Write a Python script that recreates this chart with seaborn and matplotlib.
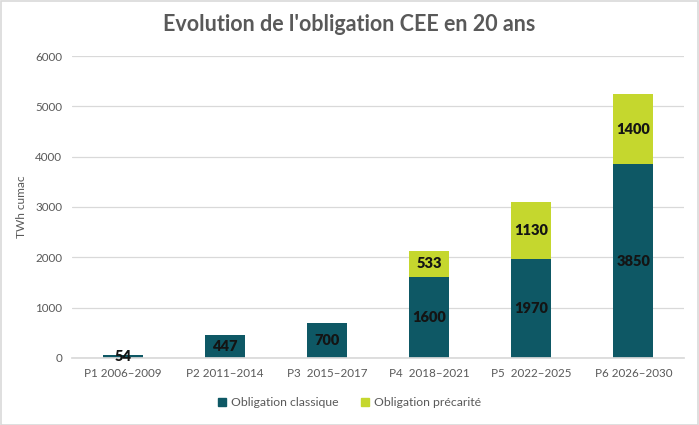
import matplotlib
matplotlib.use('Agg')
import numpy as np
import pandas as pd
import matplotlib.pyplot as plt
import seaborn as sns
from matplotlib.patches import Patch

periods = ["P1 2006\u20132009", "P2 2011\u20132014", "P3  2015\u20132017",
           "P4  2018\u20132021", "P5  2022\u20132025", "P6 2026\u20132030"]
classique = [54, 447, 700, 1600, 1970, 3850]
precarite = [0, 0, 0, 533, 1130, 1400]

teal = "#0E5865"
lime = "#C5D72E"
grey_txt = "#595959"

sns.set_theme(style="white")
plt.rcParams['font.family'] = ['Lato', 'DejaVu Sans']

df = pd.DataFrame({"period": periods, "classique": classique, "precarite": precarite})
df["total"] = df["classique"] + df["precarite"]

fig = plt.figure(figsize=(6.99, 4.25), dpi=100)
ax = fig.add_axes([0.103, 0.158, 0.876, 0.71])

sns.barplot(data=df, x="period", y="total", color=lime, width=0.39, saturation=1,
            linewidth=0, ax=ax)
sns.barplot(data=df, x="period", y="classique", color=teal, width=0.39, saturation=1,
            linewidth=0, ax=ax)

ax.set_ylim(0, 6000)
ax.set_yticks(np.arange(0, 6001, 1000))
ax.yaxis.grid(True, color="#D9D9D9", linewidth=0.9)
ax.set_axisbelow(True)
for s in ["top", "right", "left"]:
    ax.spines[s].set_visible(False)
ax.spines["bottom"].set_color("#D9D9D9")
ax.tick_params(axis="y", length=0, labelsize=8.4, colors=grey_txt, pad=7)
ax.tick_params(axis="x", length=0, labelsize=8.4, colors=grey_txt, pad=7)
ax.set_xlabel("")
ax.set_ylabel("TWh cumac", fontsize=8.6, color=grey_txt, labelpad=6)

# data labels
for i, (c, p) in enumerate(zip(classique, precarite)):
    ax.text(i, c / 2, str(c), ha="center", va="center", fontsize=10.5,
            fontweight="heavy", color="#141414")
    if p > 0:
        ax.text(i, c + p / 2, str(p), ha="center", va="center", fontsize=10.5,
                fontweight="heavy", color="#141414")

fig.suptitle("Evolution de l'obligation CEE en 20 ans", x=0.5, y=0.968,
             fontsize=15.5, fontweight="bold", color=grey_txt)

handles = [Patch(color=teal, label="Obligation classique"),
           Patch(color=lime, label="Obligation pr\u00e9carit\u00e9")]
fig.legend(handles=handles, loc="center", bbox_to_anchor=(0.5, 0.052), ncol=2,
           frameon=False, fontsize=8.8, labelcolor=grey_txt, handlelength=0.7,
           handleheight=0.7, handletextpad=0.4, columnspacing=1.8)

fig.patches.append(plt.Rectangle((0.001, 0.001), 0.997, 0.997, transform=fig.transFigure,
                                 fill=False, edgecolor="#D9D9D9", linewidth=1.2))

fig.savefig("out.png", dpi=100, facecolor="white")
